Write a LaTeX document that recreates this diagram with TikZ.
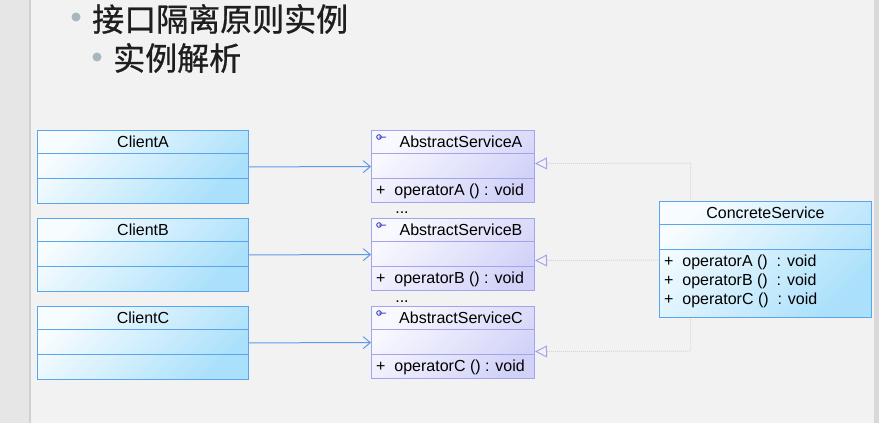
\documentclass[tikz,border=0pt]{standalone}
\usepackage{fontspec}
\setmainfont{Liberation Sans}
\newfontfamily\cjk[FakeBold=0.8]{Noto Sans CJK SC}
\usetikzlibrary{arrows.meta}

\definecolor{slidebg}{HTML}{F2F2F2}
\definecolor{sidebg}{HTML}{E6E6E6}
\definecolor{titlegray}{HTML}{1E1E1E}
\definecolor{bulletgray}{HTML}{A8B6BE}
\definecolor{clientlight}{HTML}{F6FCFF}
\definecolor{clientdark}{HTML}{AAE0FB}
\definecolor{clientline}{HTML}{5AA6EE}
\definecolor{abslight}{HTML}{F8F8FF}
\definecolor{absdark}{HTML}{D2D2F8}
\definecolor{absline}{HTML}{A4A4EE}
\definecolor{iconblue}{HTML}{4C4CCC}
\definecolor{usecolor}{HTML}{5A9CE8}
\definecolor{realcolor}{HTML}{D6D6D6}

\tikzset{
  client/.style={draw=clientline, line width=1pt, left color=clientlight,
    right color=clientdark, shading angle=45, anchor=north west,
    minimum width=211pt, minimum height=73pt, inner sep=0pt},
  abstract/.style={draw=absline, line width=1pt, left color=abslight,
    right color=absdark, shading angle=45, anchor=north west,
    minimum width=163pt, minimum height=72pt, inner sep=0pt},
  concrete/.style={draw=clientline, line width=1pt, left color=clientlight,
    right color=clientdark, shading angle=45, anchor=north west,
    minimum width=212pt, minimum height=116pt, inner sep=0pt},
  txt/.style={font=\fontsize{16}{19}\selectfont, inner sep=0pt},
  title/.style={font=\cjk\fontsize{32}{38}\selectfont, text=titlegray,
    anchor=west, inner sep=0pt},
  uses/.style={draw=usecolor, line width=1pt,
    -{Straight Barb[length=7pt,width=12pt]}},
  realize/.style={draw=realcolor, line width=1pt, dash pattern=on 1pt off 1pt,
    -{Triangle[open,length=12pt,width=12pt,color=absline,line width=1pt]}},
}

\begin{document}
\begin{tikzpicture}[x=1pt,y=-1pt]
	\useasboundingbox (0,0) rectangle (879,423);
	\fill[slidebg] (0,0) rectangle (879,423);
	\fill[sidebg] (0,0) rectangle (29,423);
	\draw[line width=2pt,black!18] (30,0) -- (30,423);
	\fill[black!15] (874,0) rectangle (879,423);
	
	% heading
	\fill[bulletgray] (76,17) circle (4.5);
	\node[title] (heading) at (92,19) {接口隔离原则实例};
	\fill[bulletgray] (97,57) circle (4.5);
	\node[title] (subheading) at (113,58) {实例解析};
	
	% clients
	\node[client] (clientA) at (37,130) {};
	\node[txt] (clientAname) at ([yshift=-11.5pt]clientA.north) {ClientA};
	\draw[clientline] ([yshift=-23pt]clientA.north west) -- ([yshift=-23pt]clientA.north east);
	\draw[clientline] ([yshift=-48pt]clientA.north west) -- ([yshift=-48pt]clientA.north east);
	
	\node[client] (clientB) at (37,218) {};
	\node[txt] (clientBname) at ([yshift=-11.5pt]clientB.north) {ClientB};
	\draw[clientline] ([yshift=-23pt]clientB.north west) -- ([yshift=-23pt]clientB.north east);
	\draw[clientline] ([yshift=-48pt]clientB.north west) -- ([yshift=-48pt]clientB.north east);
	
	\node[client] (clientC) at (37,306) {};
	\node[txt] (clientCname) at ([yshift=-11.5pt]clientC.north) {ClientC};
	\draw[clientline] ([yshift=-23pt]clientC.north west) -- ([yshift=-23pt]clientC.north east);
	\draw[clientline] ([yshift=-48pt]clientC.north west) -- ([yshift=-48pt]clientC.north east);
	
	% interfaces
	\node[abstract] (absA) at (371,130) {};
	\node[txt] (absAname) at ([xshift=8pt,yshift=-11.5pt]absA.north) {AbstractServiceA};
	\draw[absline] ([yshift=-23pt]absA.north west) -- ([yshift=-23pt]absA.north east);
	\draw[absline] ([yshift=-48pt]absA.north west) -- ([yshift=-48pt]absA.north east);
	\node[txt,anchor=west] (absAop) at ([xshift=5pt,yshift=12pt]absA.south west) {+\ \ operatorA ()\ : void};
	\draw[iconblue,line width=1pt] (379,137) circle (2.3) -- (386,137);
	\node[txt,anchor=base] (dotsA) at (402,213) {...};
	
	\node[abstract] (absB) at (371,218) {};
	\node[txt] (absBname) at ([xshift=8pt,yshift=-11.5pt]absB.north) {AbstractServiceB};
	\draw[absline] ([yshift=-23pt]absB.north west) -- ([yshift=-23pt]absB.north east);
	\draw[absline] ([yshift=-48pt]absB.north west) -- ([yshift=-48pt]absB.north east);
	\node[txt,anchor=west] (absBop) at ([xshift=5pt,yshift=12pt]absB.south west) {+\ \ operatorB ()\ : void};
	\draw[iconblue,line width=1pt] (379,225) circle (2.3) -- (386,225);
	\node[txt,anchor=base] (dotsB) at (402,302) {...};
	
	\node[abstract] (absC) at (371,306) {};
	\node[txt] (absCname) at ([xshift=8pt,yshift=-11.5pt]absC.north) {AbstractServiceC};
	\draw[absline] ([yshift=-23pt]absC.north west) -- ([yshift=-23pt]absC.north east);
	\draw[absline] ([yshift=-48pt]absC.north west) -- ([yshift=-48pt]absC.north east);
	\node[txt,anchor=west] (absCop) at ([xshift=5pt,yshift=12pt]absC.south west) {+\ \ operatorC ()\ : void};
	\draw[iconblue,line width=1pt] (379,313) circle (2.3) -- (386,313);
	
	% client -> interface
	\draw[uses] (clientA) -- (absA);
	\draw[uses] (clientB) -- (absB);
	\draw[uses] (clientC) -- (absC);
	
	% realization
	\coordinate (joinA) at (690,163);
	\coordinate (joinB) at (690,260);
	\coordinate (joinC) at (690,351);
	\draw[realcolor,line width=1pt,dash pattern=on 1pt off 1pt] (joinA) -- (joinC);
	\draw[realize] (joinA) -- ([yshift=3pt]absA.east);
	\draw[realize] (joinB) -- ([yshift=-6pt]absB.east);
	\draw[realize] (joinC) -- ([yshift=-9pt]absC.east);
	
	\node[concrete] (concrete) at (659,201) {};
	\node[txt] (concretename) at ([yshift=-11.5pt]concrete.north) {ConcreteService};
	\draw[clientline] ([yshift=-23pt]concrete.north west) -- ([yshift=-23pt]concrete.north east);
	\draw[clientline] ([yshift=-48pt]concrete.north west) -- ([yshift=-48pt]concrete.north east);
	\node[txt,anchor=west] (concreteopA) at (664,262) {+\ \ operatorA ()\ \ : void};
	\node[txt,anchor=west] (concreteopB) at (664,281) {+\ \ operatorB ()\ \ : void};
	\node[txt,anchor=west] (concreteopC) at (664,300) {+\ \ operatorC ()\ \ : void};
\end{tikzpicture}
\end{document}
